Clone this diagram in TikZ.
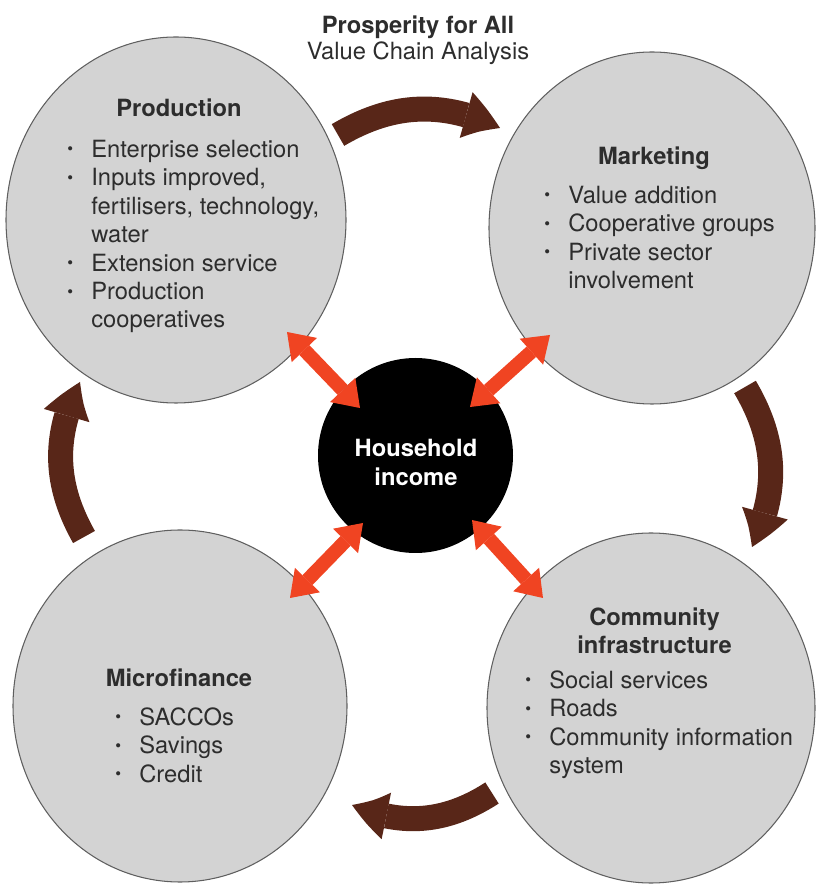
\documentclass[tikz,border=0pt]{standalone}
\usepackage{fontspec}
\usepackage{graphicx}
\setmainfont{TeX Gyre Heros}
\usetikzlibrary{arrows.meta, bending, shapes.geometric, positioning}

\definecolor{areagray}{RGB}{211,211,211}
\definecolor{rimgray}{RGB}{95,95,95}
\definecolor{flowbrown}{RGB}{88,38,24}
\definecolor{linkred}{RGB}{240,68,34}
\definecolor{inkgray}{RGB}{45,45,45}

% bullet with hanging indent
\newcommand{\bul}{\makebox[0.48cm][l]{\raisebox{0.1em}{\scalebox{0.7}{\textbullet}}}}
\newcommand{\ind}{\hspace*{0.48cm}}

\begin{document}
\begin{tikzpicture}[
area/.style={
    ellipse,
    draw=rimgray,
    line width=0.6pt,
    fill=areagray,
    inner sep=0pt
},
hub/.style={circle, fill=black, minimum size=3.9cm, inner sep=0pt},
heading/.style={font=\fontsize{13.5}{16.2}\selectfont\bfseries, text=inkgray, align=center, inner sep=0pt},
items/.style={font=\fontsize{13.5}{16.2}\selectfont, text=inkgray, align=left, anchor=west, inner sep=0pt},
flow/.style={draw=flowbrown, line width=0.5cm, -{Triangle[width=0.95cm, length=0.75cm, line width=0pt, bend]}, bend left=28},
link/.style={draw=linkred, line width=0.28cm, {Triangle[width=0.7cm, length=0.5cm, line width=0pt]}-{Triangle[width=0.7cm, length=0.5cm, line width=0pt]}}
]
\useasboundingbox (0,0) rectangle (16.3,17.86);

% The four areas and the household in the middle
\node[area, minimum width=6.8cm, minimum height=7.32cm] (prod) at (3.52,13.46) {};
\node[area, minimum width=6.52cm, minimum height=7.04cm] (mark) at (13.04,13.3) {};
\node[area, minimum width=6.56cm, minimum height=7.0cm] (comm) at (13.02,3.7) {};
\node[area, minimum width=6.68cm, minimum height=7.04cm] (micro) at (3.6,3.74) {};
\node[hub] (house) at (8.31,8.75) {};

% Ends of the cycle arrows
\coordinate (prodout) at (6.76,15.16);
\coordinate (markin) at (10.0,15.3);
\coordinate (markout) at (14.9,10.12);
\coordinate (commin) at (15.04,6.92);
\coordinate (commout) at (9.84,2.0);
\coordinate (microin) at (7.04,1.76);
\coordinate (microout) at (1.68,7.12);
\coordinate (prodin) at (1.6,10.22);

% Cycle
\draw[flow] (prodout) to (markin);
\draw[flow] (markout) to (commin);
\draw[flow] (commout) to (microin);
\draw[flow] (microout) to (prodin);

% Ends of the links to the household
\coordinate (prodlink) at (5.74,11.22);
\coordinate (houseprod) at (7.2,9.7);
\coordinate (marklink) at (11.0,11.16);
\coordinate (housemark) at (9.4,9.72);
\coordinate (commlink) at (10.86,5.9);
\coordinate (housecomm) at (9.44,7.46);
\coordinate (microlink) at (5.8,5.9);
\coordinate (housemicro) at (7.26,7.4);

% Links
\draw[link] (prodlink) -- (houseprod);
\draw[link] (marklink) -- (housemark);
\draw[link] (commlink) -- (housecomm);
\draw[link] (microlink) -- (housemicro);

% Title
\node[heading] (title) at (8.36,17.32) {Prosperity for All};
\node[heading, font=\fontsize{13.5}{16.2}\selectfont] (subtitle) at (8.36,16.8) {Value Chain Analysis};

% Texts inside the areas
\node[heading] (prodhead) at (3.58,15.7) {Production};
\node[items] (proditems) at (1.34,13.13) {\bul Enterprise selection\\ \bul Inputs improved,\\ \ind fertilisers, technology,\\ \ind water\\ \bul Extension service\\ \bul Production\\ \ind cooperatives};

\node[heading] (markhead) at (13.08,14.7) {Marketing};
\node[items] (markitems) at (10.88,13.11) {\bul Value addition\\ \bul Cooperative groups\\ \bul Private sector\\ \ind involvement};

\node[heading] (commhead) at (13.09,5.24) {Community\\ infrastructure};
\node[items] (commitems) at (10.5,3.37) {\bul Social services\\ \bul Roads\\ \bul Community information\\ \ind system};

\node[heading] (microhead) at (3.58,4.3) {Microfinance};
\node[items] (microitems) at (2.3,2.96) {\bul SACCOs\\ \bul Savings\\ \bul Credit};

\node[heading, text=white] (househead) at (8.32,8.61) {Household\\ income};

\end{tikzpicture}
\end{document}
